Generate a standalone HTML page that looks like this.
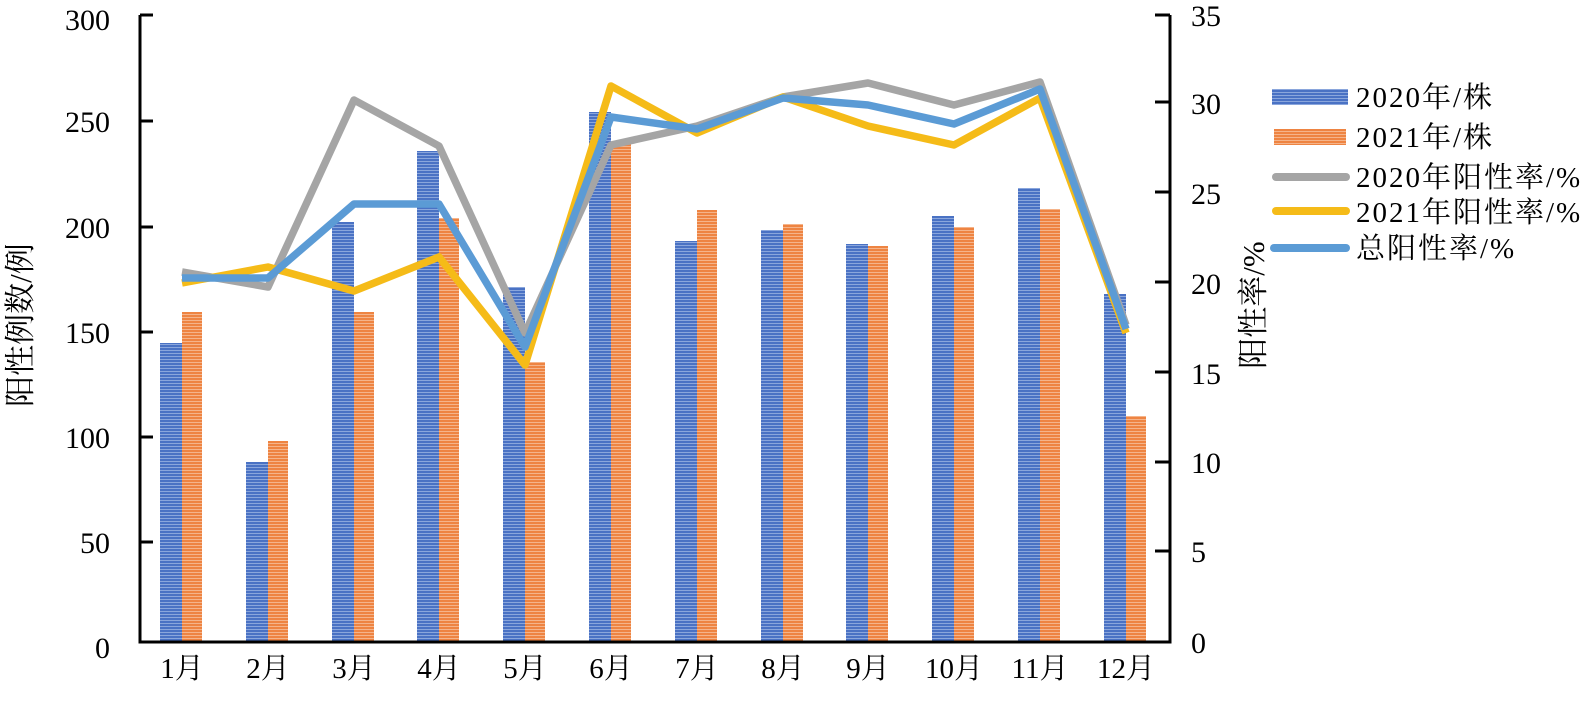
<!DOCTYPE html>
<html><head><meta charset="utf-8"><style>
html,body{margin:0;padding:0;background:#fff;}
svg text{font-family:"Liberation Serif","Noto Serif CJK SC","Noto Sans CJK SC",serif;fill:#000;}
</style></head><body>
<svg width="1596" height="696" viewBox="0 0 1596 696" xmlns="http://www.w3.org/2000/svg">
<defs>
<pattern id="pb" width="4" height="3" patternUnits="userSpaceOnUse"><rect width="4" height="3" fill="#4a72c4"/><rect y="2" width="4" height="1" fill="#8aa6dc"/></pattern>
<pattern id="po" width="4" height="3" patternUnits="userSpaceOnUse"><rect width="4" height="3" fill="#ee8442"/><rect y="2" width="4" height="1" fill="#f5b48a"/></pattern>
</defs>
<g id="bars">
<rect x="160" y="343" width="22" height="299" fill="url(#pb)"/><rect x="182" y="312" width="20" height="330" fill="url(#po)"/>
<rect x="246" y="462" width="22" height="180" fill="url(#pb)"/><rect x="268" y="441" width="20" height="201" fill="url(#po)"/>
<rect x="332" y="222" width="22" height="420" fill="url(#pb)"/><rect x="354" y="312" width="20" height="330" fill="url(#po)"/>
<rect x="417" y="151" width="22" height="491" fill="url(#pb)"/><rect x="439" y="218" width="20" height="424" fill="url(#po)"/>
<rect x="503" y="287" width="22" height="355" fill="url(#pb)"/><rect x="525" y="362" width="20" height="280" fill="url(#po)"/>
<rect x="589" y="112" width="22" height="530" fill="url(#pb)"/><rect x="611" y="143" width="20" height="499" fill="url(#po)"/>
<rect x="675" y="241" width="22" height="401" fill="url(#pb)"/><rect x="697" y="210" width="20" height="432" fill="url(#po)"/>
<rect x="761" y="230" width="22" height="412" fill="url(#pb)"/><rect x="783" y="224" width="20" height="418" fill="url(#po)"/>
<rect x="846" y="244" width="22" height="398" fill="url(#pb)"/><rect x="868" y="246" width="20" height="396" fill="url(#po)"/>
<rect x="932" y="216" width="22" height="426" fill="url(#pb)"/><rect x="954" y="227" width="20" height="415" fill="url(#po)"/>
<rect x="1018" y="188" width="22" height="454" fill="url(#pb)"/><rect x="1040" y="209" width="20" height="433" fill="url(#po)"/>
<rect x="1104" y="294" width="22" height="348" fill="url(#pb)"/><rect x="1126" y="416" width="20" height="226" fill="url(#po)"/>
</g>
<g fill="none" stroke-width="7.5" stroke-linejoin="round">
<polyline stroke="#a5a5a5" points="182,272 268,287 354,100 439,146 525,333 611,145 697,126 783,97 868,83 954,105 1040,82 1126,325"/>
<polyline stroke="#f5bb18" points="182,283 268,267 354,291 439,257 525,365 611,86 697,133 783,97 868,126 954,145 1040,98 1126,333"/>
<polyline stroke="#5b9bd5" points="182,278 268,278 354,204 439,204 525,347 611,117 697,129 783,98 868,105 954,124 1040,89 1126,329"/>
</g>
<g stroke="#000" stroke-width="3" fill="none">
<polyline points="140,15 140,642 1170,642 1170,15"/>
</g>
<g stroke="#000" stroke-width="3">
<line x1="140" y1="15" x2="153" y2="15"/><line x1="140" y1="121" x2="153" y2="121"/><line x1="140" y1="227" x2="153" y2="227"/><line x1="140" y1="332" x2="153" y2="332"/><line x1="140" y1="437" x2="153" y2="437"/><line x1="140" y1="542" x2="153" y2="542"/>
<line x1="1155" y1="15" x2="1170" y2="15"/><line x1="1155" y1="102" x2="1170" y2="102"/><line x1="1155" y1="192" x2="1170" y2="192"/><line x1="1155" y1="282" x2="1170" y2="282"/><line x1="1155" y1="372" x2="1170" y2="372"/><line x1="1155" y1="462" x2="1170" y2="462"/><line x1="1155" y1="551" x2="1170" y2="551"/>
</g>
<g font-size="30" text-anchor="end">
<text x="110" y="30">300</text><text x="110" y="132">250</text><text x="110" y="238">200</text><text x="110" y="343">150</text><text x="110" y="448">100</text><text x="110" y="553">50</text><text x="110" y="658">0</text>
</g>
<g font-size="30" text-anchor="start">
<text x="1191" y="26">35</text><text x="1191" y="114">30</text><text x="1191" y="204">25</text><text x="1191" y="294">20</text><text x="1191" y="384">15</text><text x="1191" y="473">10</text><text x="1191" y="562">5</text><text x="1191" y="653">0</text>
</g>
<g font-size="29" text-anchor="middle">
<text x="182" y="678">1月</text><text x="268" y="678">2月</text><text x="354" y="678">3月</text><text x="439" y="678">4月</text><text x="525" y="678">5月</text><text x="611" y="678">6月</text><text x="697" y="678">7月</text><text x="783" y="678">8月</text><text x="868" y="678">9月</text><text x="954" y="678">10月</text><text x="1040" y="678">11月</text><text x="1126" y="678">12月</text>
</g>
<text font-size="31" text-anchor="middle" transform="translate(31,325) rotate(-90)">阳性例数/例</text>
<text font-size="31" text-anchor="middle" transform="translate(1264,305) rotate(-90)">阳性率/%</text>
<g>
<rect x="1272" y="89" width="76" height="16" fill="url(#pb)"/>
<rect x="1274" y="129" width="72" height="16" fill="url(#po)"/>
<line x1="1276" y1="177" x2="1346" y2="177" stroke="#a5a5a5" stroke-width="8" stroke-linecap="round"/>
<line x1="1276" y1="211" x2="1346" y2="211" stroke="#f5bb18" stroke-width="8" stroke-linecap="round"/>
<line x1="1274" y1="248" x2="1346" y2="248" stroke="#5b9bd5" stroke-width="8" stroke-linecap="round"/>
</g>
<g font-size="29" letter-spacing="2">
<text x="1356" y="107">2020年/株</text>
<text x="1356" y="147">2021年/株</text>
<text x="1356" y="187">2020年阳性率/%</text>
<text x="1356" y="222">2021年阳性率/%</text>
<text x="1356" y="258">总阳性率/%</text>
</g>
</svg>
</body></html>
